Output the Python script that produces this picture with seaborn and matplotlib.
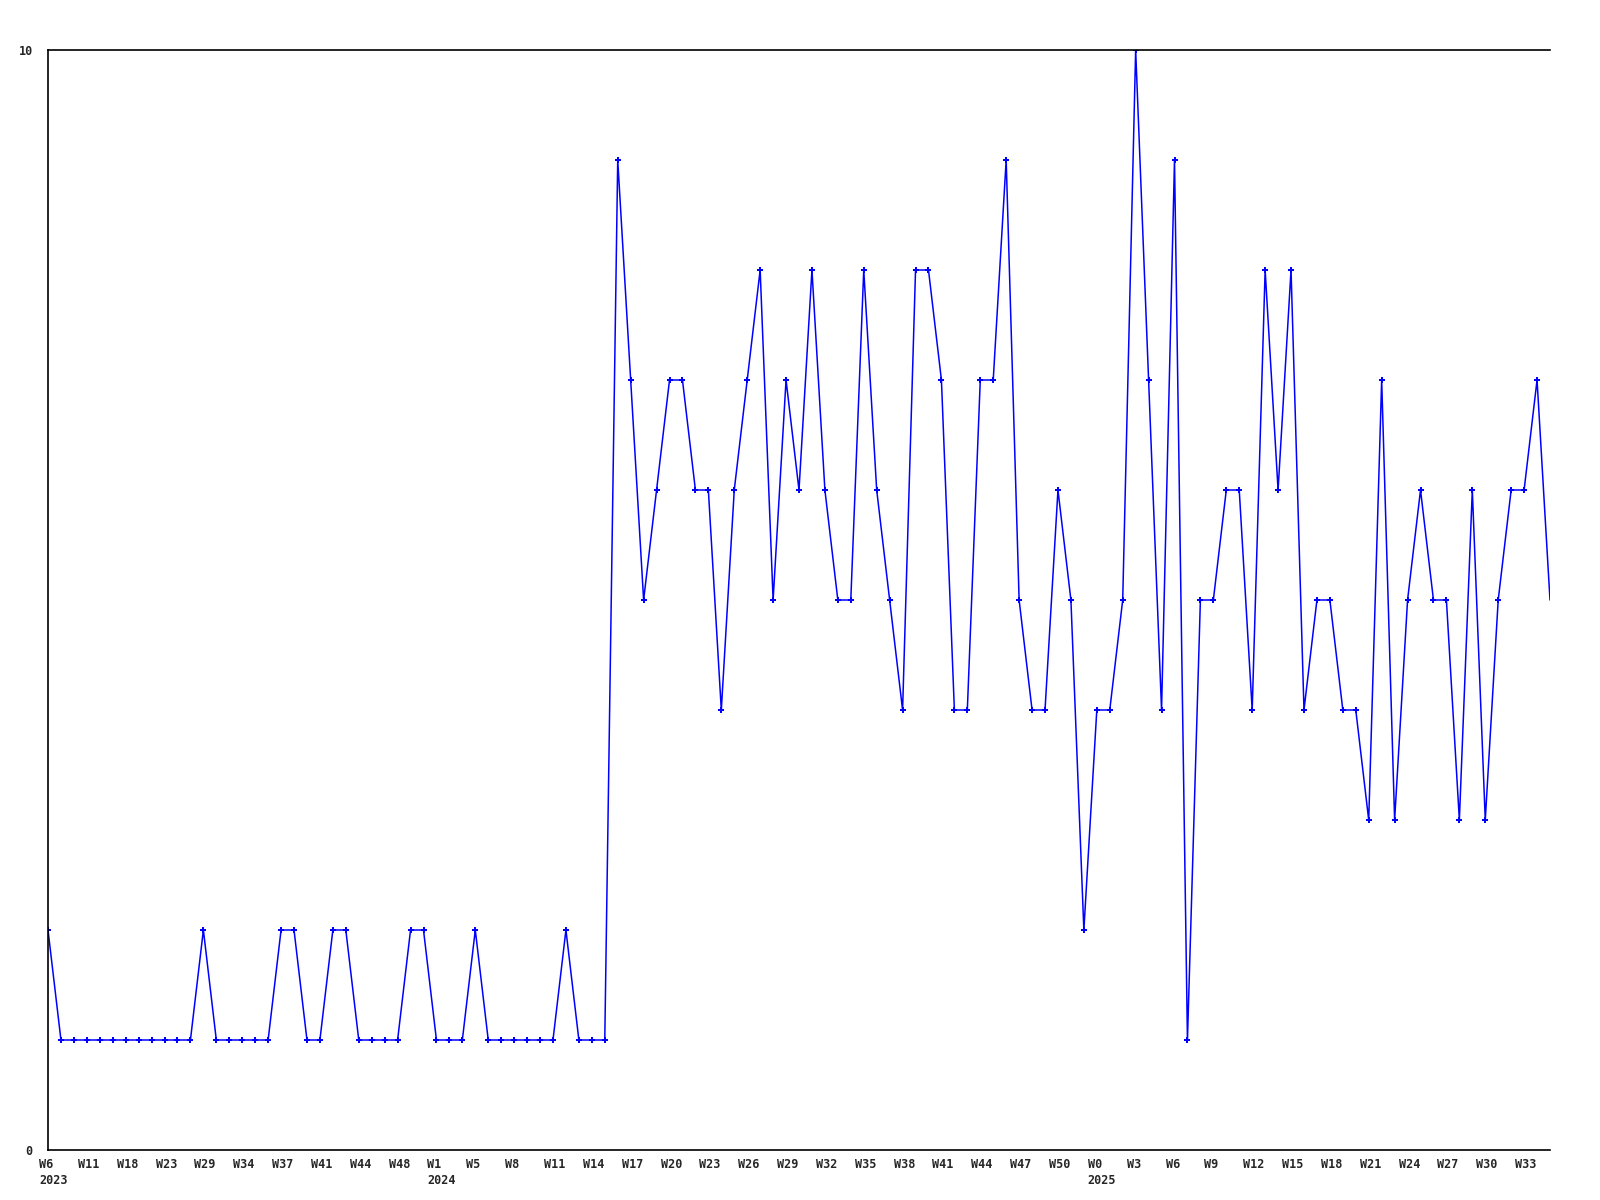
import matplotlib
matplotlib.use("Agg")
import matplotlib.pyplot as plt
import matplotlib.transforms as mtransforms
import pandas as pd
import seaborn as sns

# weekly counts, one value per point
values_2023 = [2, 1, 1, 1, 1, 1, 1, 1, 1, 1, 1, 1, 2, 1, 1, 1, 1, 1, 2, 2,
               1, 1, 2, 2, 1, 1, 1, 1, 2, 2]
values_2024 = [1, 1, 1, 2, 1, 1, 1, 1, 1, 1, 2, 1, 1, 1,
               9, 7, 5, 6, 7, 7, 6, 6, 4, 6, 7, 8, 5, 7, 6, 8, 6, 5, 5, 8,
               6, 5, 4, 8, 8, 7, 4, 4, 7, 7, 9, 5, 4, 4, 6, 5, 2]
values_2025 = [4, 4, 5, 10, 7, 4, 9, 1, 5, 5, 6, 6, 4, 8, 6, 8, 4, 5, 5, 4,
               4, 3, 7, 3, 5, 6, 5, 5, 3, 6, 3, 5, 6, 6, 7, 5]

week_labels = ["W6\n2023", "W11", "W18", "W23", "W29", "W34", "W37", "W41", "W44", "W48",
               "W1\n2024", "W5", "W8", "W11", "W14", "W17", "W20", "W23", "W26", "W29",
               "W32", "W35", "W38", "W41", "W44", "W47", "W50",
               "W0\n2025", "W3", "W6", "W9", "W12", "W15", "W18", "W21", "W24", "W27",
               "W30", "W33"]

values = values_2023 + values_2024 + values_2025
df = pd.DataFrame({"idx": range(len(values)), "count": values})

sns.set_style("white")
plt.rcParams["font.family"] = ["DejaVu Sans Mono"]

fig = plt.figure(figsize=(16, 12), dpi=100)
ax = fig.add_axes([0.03, 1 - 1150 / 1200, 0.93875, 0.9166667])

sns.lineplot(data=df, x="idx", y="count", ax=ax, color="#0000ff", lw=1.1,
             marker="P", markersize=4.5, markeredgewidth=0, errorbar=None,
             markevery=slice(0, len(values) - 1))

ax.set_xticks(df["idx"][::3])
ax.set_xticklabels(week_labels, ha="left", fontsize=8.5, fontweight="bold",
                   linespacing=1.25)
ax.set_yticks([0, 10])
ax.set_yticklabels(["0", "10"], fontsize=8.5, fontweight="bold")
ax.set_xlim(0, len(values) - 1)
ax.set_ylim(0, 10)

ax.tick_params(axis="both", length=0)
ax.tick_params(axis="x", pad=6)
ax.tick_params(axis="y", pad=11)

# shift week labels so they start a bit left of their point
# (has to come after tick_params, which resets label transforms)
offset = mtransforms.ScaledTranslation(-9 / 100, 0, fig.dpi_scale_trans)
for tick in ax.xaxis.get_major_ticks():
    tick.label1.set_transform(tick.label1.get_transform() + offset)

for side in ["left", "bottom", "top"]:
    ax.spines[side].set_color("black")
    ax.spines[side].set_linewidth(1.2)
ax.spines["right"].set_visible(False)

ax.set_xlabel("")
ax.set_ylabel("")

fig.savefig("out.png", dpi=100)
